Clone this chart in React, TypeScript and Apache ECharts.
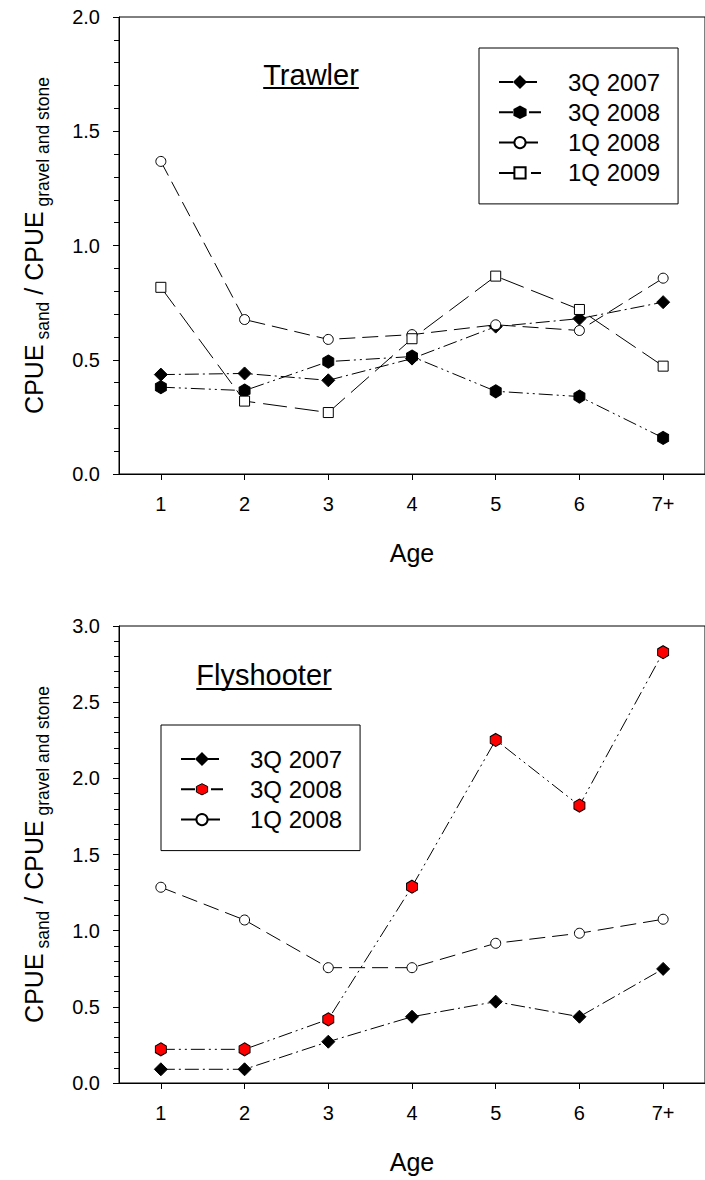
import React, { useEffect, useRef } from "react";
import * as echarts from "echarts";

// ---------- data ----------
const ages = ["1", "2", "3", "4", "5", "6", "7+"];

const trawler3Q2007 = [0.435, 0.44, 0.41, 0.505, 0.645, 0.68, 0.752];
const trawler3Q2008 = [0.38, 0.365, 0.492, 0.514, 0.362, 0.339, 0.158];
const trawler1Q2008 = [1.368, 0.676, 0.589, 0.61, 0.653, 0.628, 0.857];
const trawler1Q2009 = [0.817, 0.319, 0.269, 0.592, 0.866, 0.72, 0.472];

const fly3Q2007 = [0.09, 0.09, 0.271, 0.435, 0.534, 0.435, 0.749];
const fly3Q2008 = [0.221, 0.221, 0.418, 1.289, 2.252, 1.821, 2.828];
const fly1Q2008 = [1.285, 1.07, 0.757, 0.757, 0.917, 0.983, 1.075];

const trawlerNames = ["3Q 2007", "3Q 2008", "1Q 2008", "1Q 2009"];
const flyNames = ["3Q 2007", "3Q 2008", "1Q 2008"];

const trawlerTitle = "Trawler";
const flyTitle = "Flyshooter";
const xName = "Age";

// ---------- styles ----------
const FONT = "'Liberation Sans', Arial, Helvetica, sans-serif";
const HEX = "path://M0,-1L0.866,-0.5L0.866,0.5L0,1L-0.866,0.5L-0.866,-0.5Z";
const DASH_DOT = [14, 4, 2, 4];
const DASH_DOT_DOT = [14, 4, 2, 4, 2, 4];
const DASH_MED = [16, 7];
const DASH_LONG = [24, 8];

function measure(text: string, font: string): number {
  const c = document.createElement("canvas").getContext("2d");
  if (!c) return text.length * 14;
  c.font = font;
  return c.measureText(text).width;
}

function lineSeries(
  name: string,
  data: number[],
  idx: number,
  symbol: string,
  size: number | number[],
  fill: string,
  dash: number[]
) {
  return {
    type: "line",
    name,
    data,
    xAxisIndex: idx,
    yAxisIndex: idx,
    symbol,
    symbolSize: size,
    showSymbol: true,
    showAllSymbol: true,
    lineStyle: { color: "#000", width: 1, type: dash },
    itemStyle: { color: fill, borderColor: "#000", borderWidth: 1 },
    emphasis: { disabled: true },
  };
}

function xAxis(grid: number) {
  return {
    type: "category",
    gridIndex: grid,
    data: ages,
    boundaryGap: true,
    axisLine: { show: true, lineStyle: { color: "#000", width: 1 } },
    axisTick: { show: true, alignWithLabel: true, length: 6, lineStyle: { color: "#000" } },
    axisLabel: { fontSize: 20, fontFamily: FONT, color: "#000", margin: 20 },
    splitLine: { show: false },
    name: xName,
    nameLocation: "middle",
    nameGap: 66,
    nameTextStyle: { fontSize: 25, fontFamily: FONT, color: "#000" },
  };
}

function yAxis(grid: number, max: number) {
  return {
    type: "value",
    gridIndex: grid,
    min: 0,
    max,
    interval: 0.5,
    axisLine: { show: true, lineStyle: { color: "#000", width: 1 } },
    axisTick: { show: true, length: 6, lineStyle: { color: "#000" } },
    minorTick: { show: true, splitNumber: 5, length: 5, lineStyle: { color: "#000" } },
    splitLine: { show: false },
    minorSplitLine: { show: false },
    axisLabel: {
      fontSize: 20,
      fontFamily: FONT,
      color: "#000",
      margin: 19,
      formatter: (v: number) => v.toFixed(1),
    },
    name: "{m|CPUE}{s| sand}{m| / CPUE}{s| gravel and stone}",
    nameLocation: "middle",
    nameRotate: 90,
    nameGap: 73,
    nameTextStyle: {
      color: "#000",
      fontFamily: FONT,
      rich: {
        m: { fontSize: 25, lineHeight: 25, fontFamily: FONT, color: "#000", verticalAlign: "top" },
        s: {
          fontSize: 17.5,
          lineHeight: 17.5,
          fontFamily: FONT,
          color: "#000",
          verticalAlign: "top",
          padding: [13, 0, 0, 0],
        },
      },
    },
  };
}

function legend(names: any[], left: number, top: number) {
  return {
    data: names,
    left,
    top,
    orient: "vertical",
    selectedMode: false,
    itemWidth: 42,
    itemHeight: 14,
    itemGap: 6.3,
    padding: [22, 18, 19, 19],
    borderColor: "#000",
    borderWidth: 1,
    backgroundColor: "#fff",
    textStyle: {
      fontSize: 24,
      lineHeight: 24,
      fontFamily: FONT,
      color: "#000",
      padding: [0, 0, 0, 22],
    },
  };
}

function titleGraphics(text: string, cx: number, cy: number, underlineY: number) {
  const font = `29px ${FONT}`;
  const w = measure(text, font);
  return [
    {
      type: "text",
      x: cx,
      y: cy,
      silent: true,
      style: {
        text,
        font,
        fill: "#000",
        align: "center",
        verticalAlign: "middle",
      },
    },
    {
      type: "line",
      silent: true,
      shape: { x1: cx - w / 2, y1: underlineY, x2: cx + w / 2, y2: underlineY },
      style: { stroke: "#000", lineWidth: 2 },
    },
  ];
}

export default function App() {
  const ref = useRef<HTMLDivElement>(null);

  useEffect(() => {
    if (!ref.current) return;
    const chart = echarts.init(ref.current, undefined, { renderer: "svg" });

    const option: any = {
      animation: false,
      backgroundColor: "#fff",
      textStyle: { fontFamily: FONT },
      grid: [
        { left: 119, top: 17, width: 593, height: 457, show: true, borderColor: "#000", borderWidth: 1, backgroundColor: "transparent" },
        { left: 119, top: 626, width: 593, height: 457, show: true, borderColor: "#000", borderWidth: 1, backgroundColor: "transparent" },
      ],
      xAxis: [xAxis(0), xAxis(1)],
      yAxis: [yAxis(0, 2), yAxis(1, 3)],
      legend: [
        legend(trawlerNames, 479, 48),
        legend(
          flyNames.map((n) =>
            n === "3Q 2008" ? { name: n, itemStyle: { color: "#ff0000", borderColor: "#000", borderWidth: 1 } } : { name: n }
          ),
          161,
          725
        ),
      ],
      series: [
        lineSeries(trawlerNames[0], trawler3Q2007, 0, "diamond", 13, "#000", DASH_DOT),
        lineSeries(trawlerNames[1], trawler3Q2008, 0, HEX, [11, 13], "#000", DASH_DOT_DOT),
        lineSeries(trawlerNames[2], trawler1Q2008, 0, "circle", 10, "#fff", DASH_MED),
        lineSeries(trawlerNames[3], trawler1Q2009, 0, "rect", 10, "#fff", DASH_LONG),
        lineSeries(flyNames[0], fly3Q2007, 1, "diamond", 13, "#000", DASH_DOT),
        lineSeries(flyNames[1], fly3Q2008, 1, HEX, [11, 13], "#ff0000", DASH_DOT_DOT),
        lineSeries(flyNames[2], fly1Q2008, 1, "circle", 10, "#fff", DASH_MED),
      ],
      graphic: [
        ...titleGraphics(trawlerTitle, 311, 75, 88),
        ...titleGraphics(flyTitle, 264, 675, 689),
      ],
    };

    chart.setOption(option);
    return () => chart.dispose();
  }, []);

  return (
    <div
      ref={ref}
      style={{ position: "absolute", left: 0, top: 0, width: 705, height: 1180, background: "#fff" }}
    />
  );
}
